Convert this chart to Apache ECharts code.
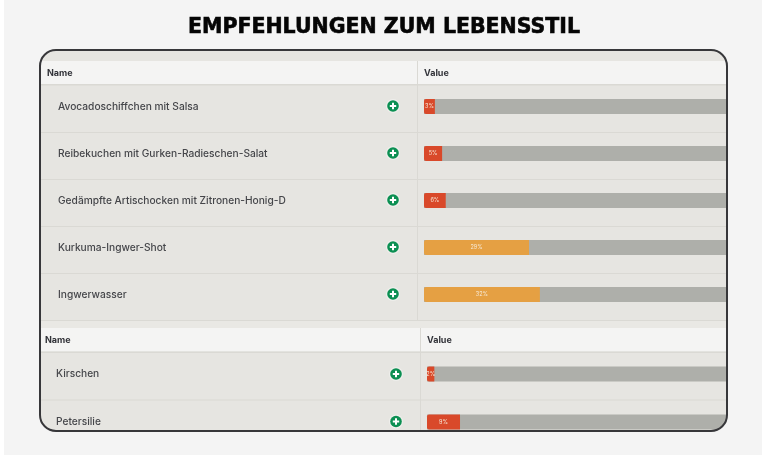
<!DOCTYPE html>
<html>
<head>
<meta charset="utf-8">
<style>
    html, body { margin: 0; padding: 0; background: #fff; }
    #chart { width: 762px; height: 455px; }
</style>
</head>
<body>
<div id="chart"></div>
<script src="https://cdn.jsdelivr.net/npm/echarts@6/dist/echarts.min.js"></script>
<script>
    var titleText = 'EMPFEHLUNGEN ZUM LEBENSSTIL';
    var headerLabels = ['Name', 'Value'];
    var namesTop = ['Avocadoschiffchen mit Salsa', 'Reibekuchen mit Gurken-Radieschen-Salat', 'Gedämpfte Artischocken mit Zitronen-Honig-D', 'Kurkuma-Ingwer-Shot', 'Ingwerwasser'];
    var valuesTop = [3, 5, 6, 29, 32];
    var namesBottom = ['Kirschen', 'Petersilie'];
    var valuesBottom = [2, 9];

    var RED = '#d9492a', ORANGE = '#e5a043', TRACK = '#aeafaa';
    var ROW_BG = '#e6e5e1', HEAD_BG = '#f4f4f3', LINE = '#dad9d4', PAGE = '#f4f4f4';
    var FONT = 'Inter, "Noto Sans", sans-serif';

    // color by level, low values are red
    function barData(values) {
        return values.map(function (v) {
            return { value: v, itemStyle: { color: v < 10 ? RED : ORANGE } };
        });
    }

    function barSeries(index, values) {
        return {
            type: 'bar',
            xAxisIndex: index,
            yAxisIndex: index,
            data: barData(values),
            barWidth: 15,
            showBackground: true,
            backgroundStyle: { color: TRACK },
            itemStyle: { borderRadius: [2, 0, 0, 2] },
            label: { show: true, position: 'inside', formatter: '{c}%', fontSize: 5.5, fontFamily: FONT, color: '#f6ead9' },
            silent: true
        };
    }

    function rect(x, y, w, h, color, z) {
        return { type: 'rect', shape: { x: x, y: y, width: w, height: h }, style: { fill: color }, z: z || -5, silent: true };
    }

    function label(text, x, y) {
        return { type: 'text', x: x, y: y, style: { text: text, fontSize: 9, fontWeight: 700, fontFamily: FONT, fill: '#33343a', textVerticalAlign: 'middle' }, z: 1, silent: true };
    }

    function plus(cx, cy) {
        return [
            { type: 'circle', shape: { cx: cx, cy: cy, r: 7 }, style: { fill: '#efefec' }, z: 1, silent: true },
            { type: 'circle', shape: { cx: cx, cy: cy, r: 5.8 }, style: { fill: '#0b8f52' }, z: 1, silent: true },
            rect(cx - 3.2, cy - 1, 6.4, 2, '#fff', 2),
            rect(cx - 1, cy - 3.2, 2, 6.4, '#fff', 2)
        ];
    }

    // page coloured wedge that hides what pokes out of a round card corner
    function cornerMask(cx, cy, r, from) {
        var pts = [[cx + r * Math.SQRT2 * Math.cos(from + Math.PI / 4), cy + r * Math.SQRT2 * Math.sin(from + Math.PI / 4)]];
        for (var i = 0; i <= 12; i++) {
            var a = from + i / 12 * Math.PI / 2;
            pts.push([cx + r * Math.cos(a), cy + r * Math.sin(a)]);
        }
        return { type: 'polygon', shape: { points: pts }, style: { fill: PAGE }, z: 20, silent: true };
    }

    var furniture = [
        rect(0, 0, 4, 455, '#fff', -20),
        rect(4, 0, 758, 455, PAGE, -20),
        { type: 'rect', shape: { x: 40, y: 50, width: 687, height: 381, r: 16 }, style: { fill: ROW_BG }, z: -10, silent: true },
        // top table
        rect(41, 61, 685, 23, HEAD_BG),
        rect(41, 84, 685, 1.5, LINE),
        rect(417, 61, 1, 260, LINE),
        // bottom table
        rect(41, 321, 685, 7, '#e9e8e4'),
        rect(41, 328, 685, 23.5, HEAD_BG),
        rect(41, 351.5, 685, 1.5, LINE),
        rect(420, 328, 1, 103, LINE),
        rect(41, 320, 685, 1, LINE),
        rect(41, 399.5, 685, 1, LINE),
        label(headerLabels[0], 47, 73),
        label(headerLabels[1], 424, 73),
        label(headerLabels[0], 45, 340),
        label(headerLabels[1], 427, 340),
        cornerMask(711, 65, 16, -Math.PI / 2),
        cornerMask(711, 415, 16, 0),
        { type: 'rect', shape: { x: 40, y: 50, width: 687, height: 381, r: 16 }, style: { fill: 'none', stroke: '#37373a', lineWidth: 2 }, z: 21, silent: true }
    ];
    namesTop.forEach(function (n, i) {
        if (i > 0) furniture.push(rect(41, 132 + (i - 1) * 47, 685, 1, LINE));
        furniture = furniture.concat(plus(393, 106 + i * 47));
    });
    namesBottom.forEach(function (n, i) {
        furniture = furniture.concat(plus(396, 374 + i * 47.5));
    });

    function valueAxis(index, max) {
        return { type: 'value', gridIndex: index, min: 0, max: max, show: false };
    }

    function nameAxis(index, names, margin) {
        return {
            type: 'category',
            gridIndex: index,
            data: names,
            inverse: true,
            axisLine: { show: false },
            axisTick: { show: false },
            axisLabel: { margin: margin, align: 'left', fontSize: 10.2, fontWeight: 500, fontFamily: FONT, color: '#45464a' }
        };
    }

    var myChart = echarts.init(document.getElementById('chart'));
    myChart.setOption({
        animation: false,
        backgroundColor: 'transparent',
        title: {
            text: titleText,
            left: 379,
            top: 12,
            textAlign: 'center',
            textStyle: { fontFamily: '"DejaVu Sans", sans-serif', fontSize: 20.5, fontWeight: 700, color: '#050505', textBorderColor: '#050505', textBorderWidth: 0.6 }
        },
        grid: [
            { left: 424, top: 83, width: 302, height: 235 },
            { left: 427, top: 350, width: 299, height: 96 }
        ],
        // axis max is what fits inside the card, the track runs on past the edge
        xAxis: [valueAxis(0, 83.4), valueAxis(1, 81.5)],
        yAxis: [nameAxis(0, namesTop, 366), nameAxis(1, namesBottom, 371)],
        series: [barSeries(0, valuesTop), barSeries(1, valuesBottom)],
        graphic: furniture
    });
</script>
</body>
</html>
